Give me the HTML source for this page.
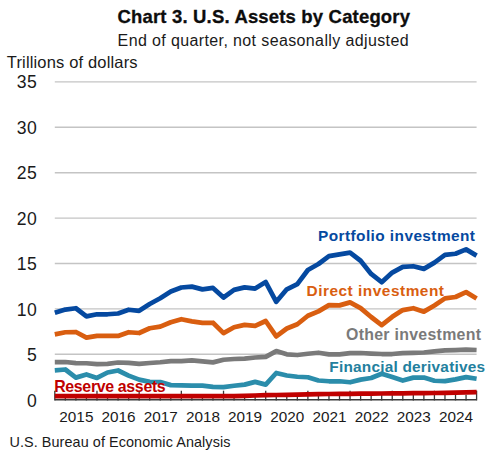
<!DOCTYPE html>
<html><head><meta charset="utf-8"><style>
html,body{margin:0;padding:0;background:#fff;}
body{width:504px;height:457px;overflow:hidden;}
svg{display:block;font-family:"Liberation Sans",sans-serif;}
.yl{font-size:17.6px;letter-spacing:0.5px;fill:#1a1a1a;}
.yr{font-size:15.3px;fill:#1a1a1a;}
.lb{font-size:15.4px;font-weight:bold;}
.title{font-size:18.5px;font-weight:bold;fill:#0d0d0d;}
.sub{font-size:16px;fill:#1a1a1a;}
.sub2{font-size:16.5px;fill:#1a1a1a;}
.src{font-size:14.4px;fill:#1a1a1a;}
</style></head><body>
<svg width="504" height="457" viewBox="0 0 504 457">
<line x1="54.80" y1="354.30" x2="476.60" y2="354.30" stroke="#c4c4c4" stroke-width="1.4"/>
<line x1="54.80" y1="308.90" x2="476.60" y2="308.90" stroke="#c4c4c4" stroke-width="1.4"/>
<line x1="54.80" y1="263.50" x2="476.60" y2="263.50" stroke="#c4c4c4" stroke-width="1.4"/>
<line x1="54.80" y1="218.10" x2="476.60" y2="218.10" stroke="#c4c4c4" stroke-width="1.4"/>
<line x1="54.80" y1="172.70" x2="476.60" y2="172.70" stroke="#c4c4c4" stroke-width="1.4"/>
<line x1="54.80" y1="127.30" x2="476.60" y2="127.30" stroke="#c4c4c4" stroke-width="1.4"/>
<line x1="54.80" y1="81.90" x2="476.60" y2="81.90" stroke="#c4c4c4" stroke-width="1.4"/>
<text x="37.3" y="406.55" text-anchor="end" class="yl">0</text>
<text x="37.3" y="361.04" text-anchor="end" class="yl">5</text>
<text x="37.3" y="315.54" text-anchor="end" class="yl">10</text>
<text x="37.3" y="270.03" text-anchor="end" class="yl">15</text>
<text x="37.3" y="224.52" text-anchor="end" class="yl">20</text>
<text x="37.3" y="179.01" text-anchor="end" class="yl">25</text>
<text x="37.3" y="133.51" text-anchor="end" class="yl">30</text>
<text x="37.3" y="88.00" text-anchor="end" class="yl">35</text>
<line x1="54.80" y1="399.70" x2="476.60" y2="399.70" stroke="#3a3a3a" stroke-width="1.5"/>
<line x1="54.80" y1="390.70" x2="54.80" y2="400.45" stroke="#3a3a3a" stroke-width="1.3"/>
<line x1="65.34" y1="394.70" x2="65.34" y2="400.45" stroke="#3a3a3a" stroke-width="1.3"/>
<line x1="75.89" y1="394.70" x2="75.89" y2="400.45" stroke="#3a3a3a" stroke-width="1.3"/>
<line x1="86.44" y1="394.70" x2="86.44" y2="400.45" stroke="#3a3a3a" stroke-width="1.3"/>
<line x1="96.98" y1="390.70" x2="96.98" y2="400.45" stroke="#3a3a3a" stroke-width="1.3"/>
<line x1="107.53" y1="394.70" x2="107.53" y2="400.45" stroke="#3a3a3a" stroke-width="1.3"/>
<line x1="118.07" y1="394.70" x2="118.07" y2="400.45" stroke="#3a3a3a" stroke-width="1.3"/>
<line x1="128.62" y1="394.70" x2="128.62" y2="400.45" stroke="#3a3a3a" stroke-width="1.3"/>
<line x1="139.16" y1="390.70" x2="139.16" y2="400.45" stroke="#3a3a3a" stroke-width="1.3"/>
<line x1="149.70" y1="394.70" x2="149.70" y2="400.45" stroke="#3a3a3a" stroke-width="1.3"/>
<line x1="160.25" y1="394.70" x2="160.25" y2="400.45" stroke="#3a3a3a" stroke-width="1.3"/>
<line x1="170.80" y1="394.70" x2="170.80" y2="400.45" stroke="#3a3a3a" stroke-width="1.3"/>
<line x1="181.34" y1="390.70" x2="181.34" y2="400.45" stroke="#3a3a3a" stroke-width="1.3"/>
<line x1="191.88" y1="394.70" x2="191.88" y2="400.45" stroke="#3a3a3a" stroke-width="1.3"/>
<line x1="202.43" y1="394.70" x2="202.43" y2="400.45" stroke="#3a3a3a" stroke-width="1.3"/>
<line x1="212.98" y1="394.70" x2="212.98" y2="400.45" stroke="#3a3a3a" stroke-width="1.3"/>
<line x1="223.52" y1="390.70" x2="223.52" y2="400.45" stroke="#3a3a3a" stroke-width="1.3"/>
<line x1="234.06" y1="394.70" x2="234.06" y2="400.45" stroke="#3a3a3a" stroke-width="1.3"/>
<line x1="244.61" y1="394.70" x2="244.61" y2="400.45" stroke="#3a3a3a" stroke-width="1.3"/>
<line x1="255.15" y1="394.70" x2="255.15" y2="400.45" stroke="#3a3a3a" stroke-width="1.3"/>
<line x1="265.70" y1="390.70" x2="265.70" y2="400.45" stroke="#3a3a3a" stroke-width="1.3"/>
<line x1="276.25" y1="394.70" x2="276.25" y2="400.45" stroke="#3a3a3a" stroke-width="1.3"/>
<line x1="286.79" y1="394.70" x2="286.79" y2="400.45" stroke="#3a3a3a" stroke-width="1.3"/>
<line x1="297.33" y1="394.70" x2="297.33" y2="400.45" stroke="#3a3a3a" stroke-width="1.3"/>
<line x1="307.88" y1="390.70" x2="307.88" y2="400.45" stroke="#3a3a3a" stroke-width="1.3"/>
<line x1="318.43" y1="394.70" x2="318.43" y2="400.45" stroke="#3a3a3a" stroke-width="1.3"/>
<line x1="328.97" y1="394.70" x2="328.97" y2="400.45" stroke="#3a3a3a" stroke-width="1.3"/>
<line x1="339.51" y1="394.70" x2="339.51" y2="400.45" stroke="#3a3a3a" stroke-width="1.3"/>
<line x1="350.06" y1="390.70" x2="350.06" y2="400.45" stroke="#3a3a3a" stroke-width="1.3"/>
<line x1="360.61" y1="394.70" x2="360.61" y2="400.45" stroke="#3a3a3a" stroke-width="1.3"/>
<line x1="371.15" y1="394.70" x2="371.15" y2="400.45" stroke="#3a3a3a" stroke-width="1.3"/>
<line x1="381.69" y1="394.70" x2="381.69" y2="400.45" stroke="#3a3a3a" stroke-width="1.3"/>
<line x1="392.24" y1="390.70" x2="392.24" y2="400.45" stroke="#3a3a3a" stroke-width="1.3"/>
<line x1="402.79" y1="394.70" x2="402.79" y2="400.45" stroke="#3a3a3a" stroke-width="1.3"/>
<line x1="413.33" y1="394.70" x2="413.33" y2="400.45" stroke="#3a3a3a" stroke-width="1.3"/>
<line x1="423.88" y1="394.70" x2="423.88" y2="400.45" stroke="#3a3a3a" stroke-width="1.3"/>
<line x1="434.42" y1="390.70" x2="434.42" y2="400.45" stroke="#3a3a3a" stroke-width="1.3"/>
<line x1="444.97" y1="394.70" x2="444.97" y2="400.45" stroke="#3a3a3a" stroke-width="1.3"/>
<line x1="455.51" y1="394.70" x2="455.51" y2="400.45" stroke="#3a3a3a" stroke-width="1.3"/>
<line x1="466.06" y1="394.70" x2="466.06" y2="400.45" stroke="#3a3a3a" stroke-width="1.3"/>
<line x1="476.60" y1="390.70" x2="476.60" y2="400.45" stroke="#3a3a3a" stroke-width="1.3"/>
<text x="76.39" y="422.3" text-anchor="middle" class="yr">2015</text>
<text x="118.57" y="422.3" text-anchor="middle" class="yr">2016</text>
<text x="160.75" y="422.3" text-anchor="middle" class="yr">2017</text>
<text x="202.93" y="422.3" text-anchor="middle" class="yr">2018</text>
<text x="245.11" y="422.3" text-anchor="middle" class="yr">2019</text>
<text x="287.29" y="422.3" text-anchor="middle" class="yr">2020</text>
<text x="329.47" y="422.3" text-anchor="middle" class="yr">2021</text>
<text x="371.65" y="422.3" text-anchor="middle" class="yr">2022</text>
<text x="413.83" y="422.3" text-anchor="middle" class="yr">2023</text>
<text x="456.01" y="422.3" text-anchor="middle" class="yr">2024</text>
<polyline points="54.80,362.10 65.34,362.00 75.89,363.10 86.44,363.25 96.98,364.15 107.53,363.90 118.07,362.50 128.62,362.90 139.16,363.90 149.70,363.00 160.25,362.25 170.80,361.10 181.34,361.10 191.88,360.40 202.43,361.35 212.98,362.40 223.52,359.75 234.06,359.00 244.61,358.70 255.15,357.50 265.70,356.85 276.25,351.10 286.79,354.35 297.33,355.00 307.88,353.75 318.43,352.75 328.97,354.35 339.51,354.35 350.06,353.10 360.61,353.00 371.15,353.60 381.69,354.00 392.24,354.00 402.79,353.10 413.33,352.90 423.88,352.50 434.42,351.35 444.97,350.40 455.51,350.10 466.06,349.60 476.60,350.00" fill="none" stroke="#7a7a7a" stroke-width="4.75" stroke-linejoin="round" stroke-linecap="butt"/>
<polyline points="54.80,370.30 65.34,369.50 75.89,377.60 86.44,374.50 96.98,377.90 107.53,372.50 118.07,370.50 128.62,375.60 139.16,379.60 149.70,381.85 160.25,382.00 170.80,385.10 181.34,385.40 191.88,385.60 202.43,385.60 212.98,386.85 223.52,387.10 234.06,385.75 244.61,384.60 255.15,381.85 265.70,384.60 276.25,373.00 286.79,375.50 297.33,376.75 307.88,377.25 318.43,380.50 328.97,381.25 339.51,381.25 350.06,382.25 360.61,379.60 371.15,378.00 381.69,373.75 392.24,377.10 402.79,380.50 413.33,377.60 423.88,377.50 434.42,380.75 444.97,381.10 455.51,379.35 466.06,377.10 476.60,378.75" fill="none" stroke="#2b8dab" stroke-width="4.75" stroke-linejoin="round" stroke-linecap="butt"/>
<polyline points="54.80,334.35 65.34,332.25 75.89,332.00 86.44,337.60 96.98,335.90 107.53,335.90 118.07,335.90 128.62,332.25 139.16,333.00 149.70,328.25 160.25,326.65 170.80,322.25 181.34,319.25 191.88,321.40 202.43,322.90 212.98,322.75 223.52,333.10 234.06,327.25 244.61,324.85 255.15,325.90 265.70,321.00 276.25,336.40 286.79,328.50 297.33,324.25 307.88,315.75 318.43,311.35 328.97,305.10 339.51,305.40 350.06,302.35 360.61,308.10 371.15,317.00 381.69,325.10 392.24,316.85 402.79,310.10 413.33,308.25 423.88,311.65 434.42,305.50 444.97,298.40 455.51,297.00 466.06,292.15 476.60,298.50" fill="none" stroke="#d95e10" stroke-width="4.75" stroke-linejoin="round" stroke-linecap="butt"/>
<polyline points="54.80,312.85 65.34,309.55 75.89,308.25 86.44,316.35 96.98,314.25 107.53,314.25 118.07,313.50 128.62,309.75 139.16,310.85 149.70,304.00 160.25,298.25 170.80,291.50 181.34,287.50 191.88,286.60 202.43,289.35 212.98,287.90 223.52,297.50 234.06,289.90 244.61,287.35 255.15,288.60 265.70,282.10 276.25,301.80 286.79,289.30 297.33,284.10 307.88,270.00 318.43,264.00 328.97,256.10 339.51,254.35 350.06,252.60 360.61,260.75 371.15,273.90 381.69,282.20 392.24,272.60 402.79,266.85 413.33,266.25 423.88,268.85 434.42,262.60 444.97,254.90 455.51,253.75 466.06,249.35 476.60,255.60" fill="none" stroke="#0549a0" stroke-width="4.75" stroke-linejoin="round" stroke-linecap="butt"/>
<polyline points="54.80,396.20 65.34,396.20 75.89,396.20 86.44,396.20 96.98,396.20 107.53,396.20 118.07,396.20 128.62,396.20 139.16,396.20 149.70,396.20 160.25,396.20 170.80,396.20 181.34,396.20 191.88,396.20 202.43,396.20 212.98,396.20 223.52,396.20 234.06,396.20 244.61,395.80 255.15,395.50 265.70,395.20 276.25,395.00 286.79,394.80 297.33,394.60 307.88,394.40 318.43,394.20 328.97,394.00 339.51,393.90 350.06,393.80 360.61,393.70 371.15,393.60 381.69,393.50 392.24,393.40 402.79,393.30 413.33,393.20 423.88,393.10 434.42,393.00 444.97,392.80 455.51,392.60 466.06,392.40 476.60,392.20" fill="none" stroke="#c00000" stroke-width="4.75" stroke-linejoin="round" stroke-linecap="butt"/>
<text id="pf" x="318" y="240.9" class="lb" fill="#0549a0" textLength="157" lengthAdjust="spacing">Portfolio investment</text>
<text id="di" x="306.5" y="296" class="lb" fill="#d95e10" textLength="137.5" lengthAdjust="spacing">Direct investment</text>
<text id="ot" x="346" y="340.1" class="lb" style="font-size:15.9px" fill="#7a7a7a" textLength="135" lengthAdjust="spacing">Other investment</text>
<text id="fd" x="329.3" y="371.9" class="lb" style="font-size:15.4px" fill="#237f9e" textLength="155.8" lengthAdjust="spacing">Financial derivatives</text>
<text id="ra" x="54.2" y="392.3" class="lb" style="font-size:15.9px" fill="#c00000" textLength="111.5" lengthAdjust="spacing">Reserve assets</text>
<text id="title" transform="translate(0,23.5) scale(1,1.03) translate(0,-23.5)" x="117.5" y="23.5" class="title" textLength="292.5" lengthAdjust="spacing" stroke="#0d0d0d" stroke-width="0.3">Chart 3. U.S. Assets by Category</text>
<text id="sub" x="117.6" y="46" class="sub" textLength="291" lengthAdjust="spacing">End of quarter, not seasonally adjusted</text>
<text id="trill" x="6.8" y="67.9" class="sub2" textLength="130.8" lengthAdjust="spacing">Trillions of dollars</text>
<text id="src" x="9.4" y="446.5" class="src" textLength="221" lengthAdjust="spacing">U.S. Bureau of Economic Analysis</text>
</svg>
</body></html>
